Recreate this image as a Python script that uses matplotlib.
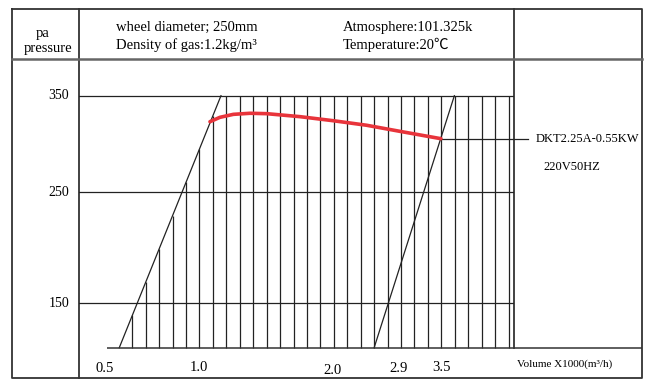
import numpy as np
import matplotlib
matplotlib.use("Agg")
import matplotlib.pyplot as plt

# ---------------- data ----------------
pressure_ticks = [350, 250, 150]
pressure_labels = ["350", "250", "150"]
p_bottom, p_top = 110, 350
volume_labels = ["0.5", "1.0", "2.0", "2.9", "3.5"]
volume_label_pos = [-2.03, 4.96, 14.9, 19.8, 23.0]      # in grid units
n_grid = 29                                              # vertical grid lines
curve_x = [5.78, 6.52, 7.52, 8.76, 10.0, 12.48, 14.96, 17.44, 19.92, 22.97]
curve_p = [323.1, 327.6, 330.7, 331.8, 331.4, 328.3, 324.1, 319.4, 313.1, 305.5]
left_slant_x = [-0.97, 6.60]
right_slant_x = [18.0, 23.97]
slant_p = [110, 350]
model_label = "DKT2.25A-0.55KW"
power_label = "220V50HZ"
header_left = ["wheel diameter; 250mm", "Density of gas:1.2kg/m³"]
header_right = ["Atmosphere:101.325k", "Temperature:20℃"]
axis_title = ["pa", "pressure"]
x_title = "Volume X1000(m³/h)"

# ---------------- layout ----------------
W, H = 658, 389
X0, DX = 132.3, 13.436          # pixel of grid line 0, spacing
P_K = [0, 110, 150, 250, 350, 500]
PX_K = [347.7 + 110 * 1.11, 347.7, 303.3, 192.3, 95.7, 95.7 - 150 * 0.966]


def fwd(p):
    return -np.interp(p, P_K, PX_K)


def inv(v):
    return np.interp(-np.asarray(v), PX_K[::-1], P_K[::-1])


def gx(px):  # pixel -> grid units
    return (px - X0) / DX


FONT = ["Liberation Serif", "Noto Sans CJK SC", "DejaVu Sans"]
plt.rcParams["font.family"] = FONT
LC = "#222222"

fig = plt.figure(figsize=(W / 100, H / 100), dpi=100)

# frame axes in pixel coordinates (table lines)
fr = fig.add_axes([0, 0, 1, 1])
fr.set_xlim(0, W)
fr.set_ylim(H, 0)
fr.axis("off")
L, R, T, B = 11.7, 642.3, 9, 378
tk = dict(color="#333333", lw=1.3, solid_capstyle="projecting")
fr.plot([L, R, R, L, L], [T, T, B, B, T], **tk)
fr.plot([78.5, 78.5], [T, B], **tk)
fr.plot([514, 514], [T, 347.7], **tk)
fr.plot([L, R], [59, 59], color="#666666", lw=1.8)

# header text
fr.text(43, 33, axis_title[0], ha="center", va="center", fontsize=10.5)
fr.text(48.5, 48, axis_title[1], ha="center", va="center", fontsize=10.5)
fr.text(116, 27, header_left[0], ha="left", va="center", fontsize=10.5)
fr.text(116, 45, header_left[1], ha="left", va="center", fontsize=10.5)
fr.text(343, 27, header_right[0], ha="left", va="center", fontsize=10.5)
fr.text(343, 45, header_right[1], ha="left", va="center", fontsize=10.5)
fr.text(536, 139, model_label, ha="left", va="center", fontsize=9)
fr.text(543, 166.5, power_label, ha="left", va="center", fontsize=9)
fr.text(517, 364.5, x_title, ha="left", va="center", fontsize=8)

# main chart axes
ax = fig.add_axes([79 / W, (H - 378) / H, 435 / W, 319 / H])
ax.patch.set_alpha(0)
ax.set_yscale("function", functions=(fwd, inv))
ax.set_xlim(gx(79), gx(514))
ax.set_ylim(float(inv(-378)), float(inv(-59)))
for s in ax.spines.values():
    s.set_visible(False)
ax.set_xticks([])
ax.set_yticks([])
ax.minorticks_off()

# horizontal grid lines
for p in pressure_ticks:
    ax.axhline(p, color=LC, lw=0.9)

# vertical grid lines, clipped by the left slant
v0, v1 = fwd(slant_p[0]), fwd(slant_p[1])
tops = []
for i in range(n_grid):
    if i < left_slant_x[1]:
        t = (i - left_slant_x[0]) / (left_slant_x[1] - left_slant_x[0])
        tops.append(float(inv(v0 + t * (v1 - v0))))
    else:
        tops.append(p_top)
ax.vlines(np.arange(n_grid), p_bottom, tops, color=LC, lw=0.9)

# slanted lines
ax.plot(left_slant_x, slant_p, color=LC, lw=0.9)
ax.plot(right_slant_x, slant_p, color=LC, lw=0.9)

# bottom baseline
ax.hlines(p_bottom, gx(106.7), gx(R), color="#333333", lw=1.1, clip_on=False)

# performance curve
ax.plot(curve_x, curve_p, color="#e8343b", lw=2.6, solid_capstyle="round",
        solid_joinstyle="round", zorder=5)
ax.plot([curve_x[-1], gx(528)], [curve_p[-1], curve_p[-1]], color=LC, lw=0.9,
        clip_on=False, zorder=4)

# y labels
for p, lab in zip(pressure_ticks, pressure_labels):
    ax.text(gx(69), p, lab, ha="right", va="center", fontsize=10, clip_on=False)

# x labels
xt = ax.get_xaxis_transform()
yfr = [0.031, 0.034, 0.025, 0.031, 0.034]
for x, lab, yf in zip(volume_label_pos, volume_labels, yfr):
    ax.text(x, yf, lab, transform=xt, ha="center", va="center", fontsize=10.5)

fig.savefig("out.png", dpi=100)
